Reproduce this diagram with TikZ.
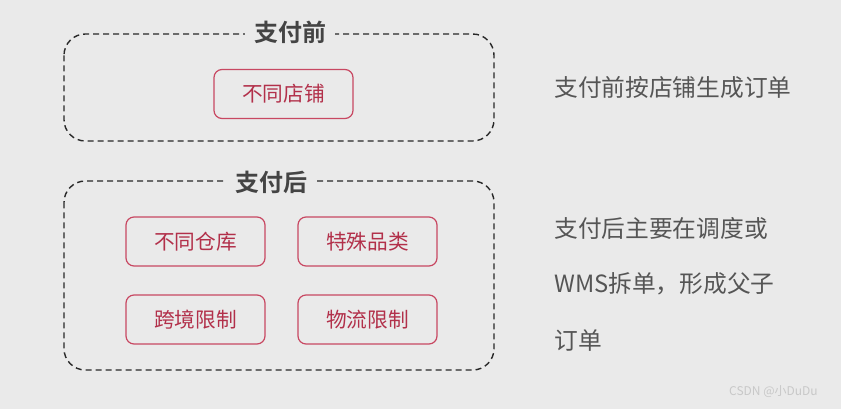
\documentclass[tikz,border=0pt]{standalone}
\usepackage{fontspec}
\setmainfont{Noto Sans CJK SC}
\newfontfamily\cjkbold{Noto Sans CJK SC Bold}
\definecolor{bg}{RGB}{234,234,234}
\definecolor{boxred}{RGB}{200,72,98}
\definecolor{txtred}{RGB}{178,48,74}
\definecolor{dark}{RGB}{68,68,68}
\definecolor{dashc}{RGB}{40,40,40}
\definecolor{gray5}{RGB}{85,85,85}
\definecolor{wm}{RGB}{200,200,200}
\tikzset{
  grp/.style={draw=dashc, line width=1.4pt*0.75, dash pattern=on 4.5pt off 3pt, rounded corners=16pt},
  grptitle/.style={fill=bg, inner xsep=7pt, inner ysep=2pt, text=dark, font=\cjkbold\fontsize{18}{20}\selectfont},
  item/.style={draw=boxred, line width=0.9pt, rounded corners=6pt, minimum width=139*0.75pt, minimum height=49*0.75pt, text=txtred, font=\fontsize{15.5}{18}\selectfont, inner sep=0pt},
  note/.style={anchor=west, text=gray5, font=\fontsize{17.8}{20}\selectfont, inner sep=0pt}
}
\begin{document}
\begin{tikzpicture}[x=0.75pt,y=-0.75pt]
\fill[bg] (0,0) rectangle (841,409);
\useasboundingbox (0,0) rectangle (841,409);
% group 1
\draw[grp] (64,34) rectangle (494,141);
\node[grptitle] (t1) at (290,32) {支付前};
\node[item] (shop) at (283.5,94) {不同店铺};
% group 2
\draw[grp] (64,181) rectangle (494,370);
\node[grptitle] (t2) at (271,182) {支付后};
\node[item] (wh) at (195.5,241.5) {不同仓库};
\node[item] (cat) at (367.5,241.5) {特殊品类};
\node[item] (cross) at (195.5,319.5) {跨境限制};
\node[item] (logi) at (367.5,319.5) {物流限制};
% notes
\node[note] (n1) at (554,88) {支付前按店铺生成订单};
\node[note] (n2) at (554,228) {支付后主要在调度或};
\node[note] (n3) at (554,284) {WMS拆单，形成父子};
\node[note] (n4) at (554,341) {订单};
\node[anchor=east, text=wm, font=\fontsize{9}{10}\selectfont, inner sep=0pt] (wmk) at (818,392) {CSDN @小DuDu};
\end{tikzpicture}
\end{document}
